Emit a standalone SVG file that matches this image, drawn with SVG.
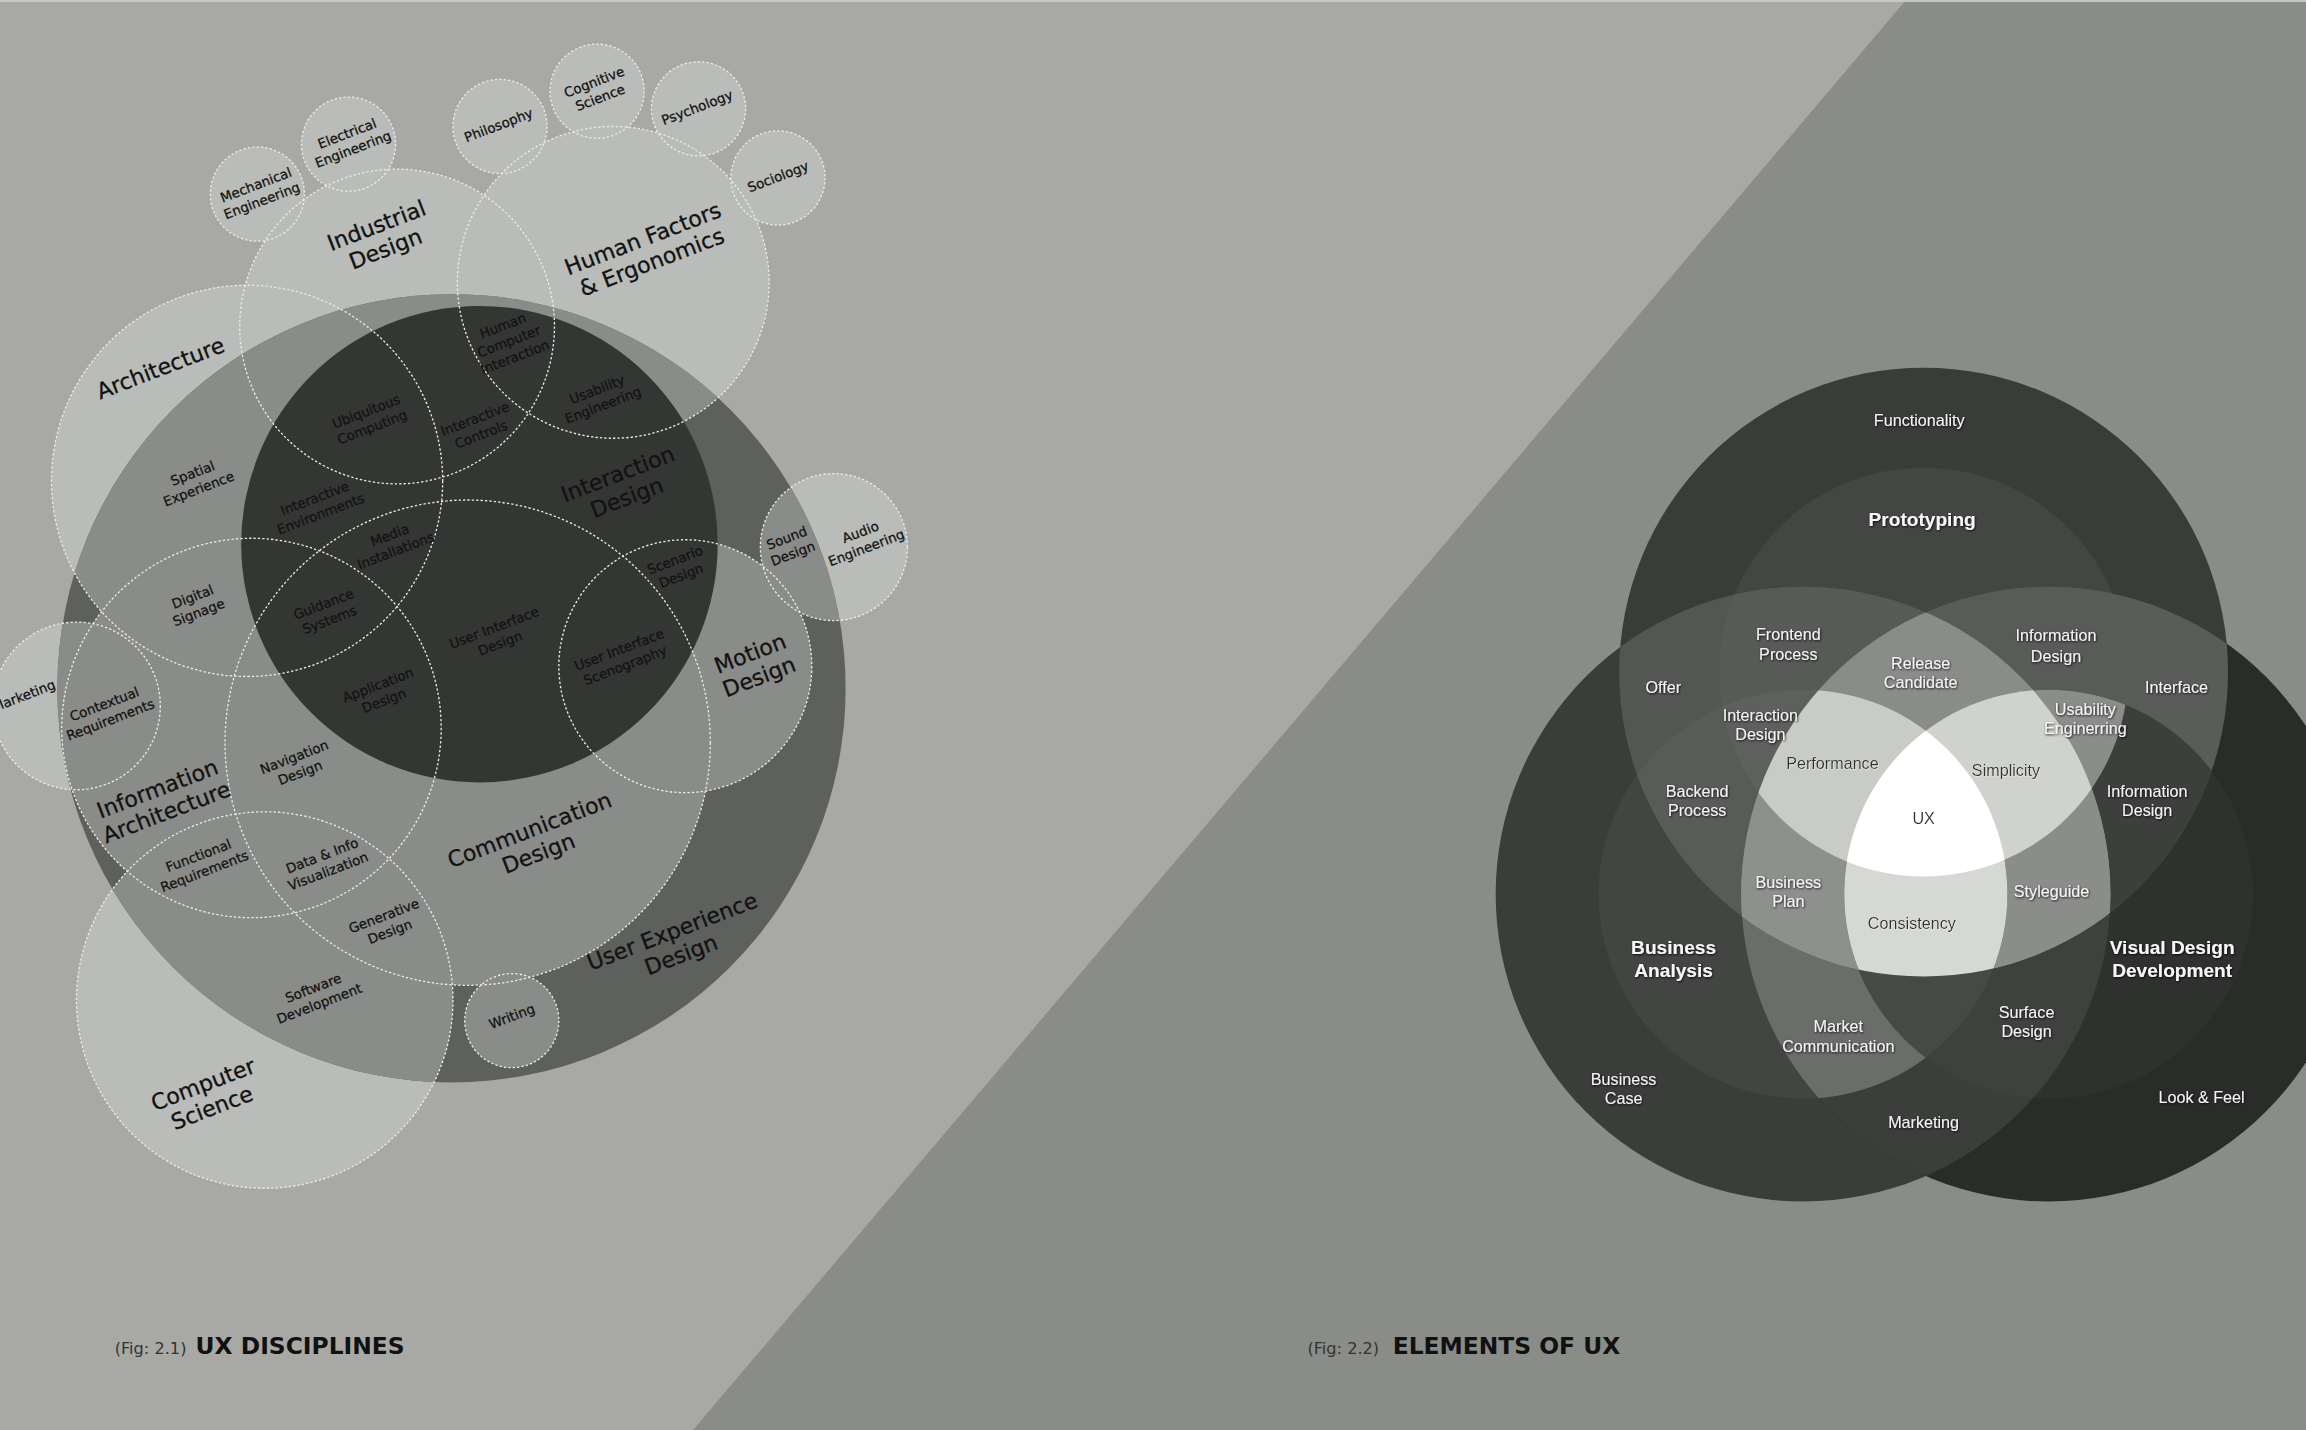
<svg xmlns="http://www.w3.org/2000/svg" xmlns:xlink="http://www.w3.org/1999/xlink" width="2306" height="1430" viewBox="0 0 2306 1430">
<style>
.s{font-family:"DejaVu Sans",sans-serif;font-size:9.1px;fill:#121212;stroke:#121212;stroke-width:0.18px;text-anchor:middle}
.b{font-family:"DejaVu Sans",sans-serif;font-size:15px;fill:#121212;stroke:#121212;stroke-width:0.2px;text-anchor:middle}
.w{font-family:"Liberation Sans",Arial,sans-serif;font-size:11px;fill:#f3f3f3;text-anchor:middle;filter:url(#sh)}
.wb{font-family:"Liberation Sans",Arial,sans-serif;font-size:13px;font-weight:bold;fill:#f6f6f6;text-anchor:middle;filter:url(#sh)}
.d{font-family:"Liberation Sans",Arial,sans-serif;font-size:11px;fill:#2e302e;text-anchor:middle;filter:url(#hl)}
.cap1{font-family:"DejaVu Sans",sans-serif;font-size:11px;fill:#333}
.cap2{font-family:"DejaVu Sans",sans-serif;font-size:15.9px;font-weight:bold;fill:#111}
</style>
<defs>
<filter id="sh" x="-20%" y="-50%" width="140%" height="200%"><feDropShadow dx="0.5" dy="0.7" stdDeviation="0.6" flood-color="#000" flood-opacity="0.85"/></filter>
<filter id="hl" x="-20%" y="-50%" width="140%" height="200%"><feDropShadow dx="0.4" dy="0.5" stdDeviation="0.5" flood-color="#fff" flood-opacity="0.6"/></filter>
<g id="lc">
<circle id="c-mech" cx="175" cy="132" r="32"/>
<circle id="c-elec" cx="237" cy="98" r="32"/>
<circle id="c-phil" cx="340" cy="86" r="32"/>
<circle id="c-cog" cx="406" cy="62" r="32"/>
<circle id="c-psy" cx="475" cy="74" r="32"/>
<circle id="c-soc" cx="529" cy="121" r="32"/>
<circle id="c-ind" cx="270" cy="222" r="107"/>
<circle id="c-hf" cx="417" cy="192" r="106"/>
<circle id="c-arch" cx="168" cy="327" r="133"/>
<circle id="c-sound" cx="567" cy="372" r="50"/>
<circle id="c-motion" cx="466" cy="453" r="86"/>
<circle id="c-comm" cx="318" cy="505" r="165"/>
<circle id="c-ia" cx="171" cy="495" r="129"/>
<circle id="c-mkt" cx="52" cy="480" r="57"/>
<circle id="c-cs" cx="180" cy="680" r="128"/>
<circle id="c-writing" cx="348" cy="694" r="32"/>
</g>
<clipPath id="cUX"><circle cx="307" cy="468" r="268"/></clipPath>
<clipPath id="cOT"><circle cx="1308" cy="457" r="207"/></clipPath>
<clipPath id="cIT"><circle cx="1308" cy="457" r="139"/></clipPath>
<clipPath id="cOL"><circle cx="1226" cy="608" r="209"/></clipPath>
<clipPath id="cIL"><circle cx="1226" cy="608" r="139"/></clipPath>
<clipPath id="cOR"><circle cx="1393" cy="608" r="209"/></clipPath>
<clipPath id="cIR"><circle cx="1393" cy="608" r="139"/></clipPath>
</defs>
<g transform="scale(1.47066)">
<g id="background">
<rect x="0" y="0" width="1570" height="975" fill="#a8a9a5"/>
<polygon points="1296,0 1570,0 1570,975 469,975" fill="#8a8c88"/>
<rect x="0" y="0" width="1570" height="1.4" fill="#c6c7c4"/>
</g>
<g id="fig-2-1">
<use xlink:href="#lc" href="#lc" fill="#b9bcb8"/>
<circle id="ux-design" cx="307" cy="468" r="268" fill="#5d605d"/>
<use xlink:href="#lc" href="#lc" fill="#8a8c89" clip-path="url(#cUX)"/>
<circle id="interaction-design" cx="326" cy="370" r="162" fill="#343634"/>
<use xlink:href="#lc" href="#lc" fill="none" stroke="#ebebe7" stroke-width="0.9" stroke-dasharray="1.6 1.4"/>
<g id="labels-left">
<g id="n-mech" transform="translate(176,131) rotate(-21)"><text class="s"><tspan x="0" y="-2.4">Mechanical</tspan><tspan x="0" y="9">Engineering</tspan></text></g>
<g id="n-elec" transform="translate(238,96) rotate(-21)"><text class="s"><tspan x="0" y="-2.4">Electrical</tspan><tspan x="0" y="9">Engineering</tspan></text></g>
<g id="n-phil" transform="translate(339,85) rotate(-21)"><text class="s" y="3.3">Philosophy</text></g>
<g id="n-cog" transform="translate(406,61) rotate(-21)"><text class="s"><tspan x="0" y="-2.4">Cognitive</tspan><tspan x="0" y="9">Science</tspan></text></g>
<g id="n-psy" transform="translate(474,73) rotate(-21)"><text class="s" y="3.3">Psychology</text></g>
<g id="n-soc" transform="translate(529,120) rotate(-21)"><text class="s" y="3.3">Sociology</text></g>
<g id="n-ind" transform="translate(259,161) rotate(-21)"><text class="b"><tspan x="0" y="-3">Industrial</tspan><tspan x="0" y="14">Design</tspan></text></g>
<g id="n-hf" transform="translate(440,170) rotate(-21)"><text class="b"><tspan x="0" y="-3">Human Factors</tspan><tspan x="0" y="14">&amp; Ergonomics</tspan></text></g>
<g id="n-arch" transform="translate(109,250) rotate(-21)"><text class="b" y="5.5">Architecture</text></g>
<g id="n-hci" transform="translate(346,232) rotate(-21)"><text class="s"><tspan x="0" y="-8.1">Human</tspan><tspan x="0" y="3.3">Computer</tspan><tspan x="0" y="14.7">Interaction</tspan></text></g>
<g id="n-ubi" transform="translate(251,285) rotate(-21)"><text class="s"><tspan x="0" y="-2.4">Ubiquitous</tspan><tspan x="0" y="9">Computing</tspan></text></g>
<g id="n-ictl" transform="translate(325,290) rotate(-21)"><text class="s"><tspan x="0" y="-2.4">Interactive</tspan><tspan x="0" y="9">Controls</tspan></text></g>
<g id="n-usab" transform="translate(408,270) rotate(-21)"><text class="s"><tspan x="0" y="-2.4">Usability</tspan><tspan x="0" y="9">Engineering</tspan></text></g>
<g id="n-spat" transform="translate(133,327) rotate(-21)"><text class="s"><tspan x="0" y="-2.4">Spatial</tspan><tspan x="0" y="9">Experience</tspan></text></g>
<g id="n-ienv" transform="translate(216,344) rotate(-21)"><text class="s"><tspan x="0" y="-2.4">Interactive</tspan><tspan x="0" y="9">Environments</tspan></text></g>
<g id="n-ixd" transform="translate(423,330) rotate(-21)"><text class="b"><tspan x="0" y="-3">Interaction</tspan><tspan x="0" y="14">Design</tspan></text></g>
<g id="n-media" transform="translate(267,369) rotate(-21)"><text class="s"><tspan x="0" y="-2.4">Media</tspan><tspan x="0" y="9">Installations</tspan></text></g>
<g id="n-dsig" transform="translate(133,411) rotate(-21)"><text class="s"><tspan x="0" y="-2.4">Digital</tspan><tspan x="0" y="9">Signage</tspan></text></g>
<g id="n-scen" transform="translate(461,386) rotate(-21)"><text class="s"><tspan x="0" y="-2.4">Scenario</tspan><tspan x="0" y="9">Design</tspan></text></g>
<g id="n-sound" transform="translate(537,371) rotate(-21)"><text class="s"><tspan x="0" y="-2.4">Sound</tspan><tspan x="0" y="9">Design</tspan></text></g>
<g id="n-audio" transform="translate(587,367) rotate(-21)"><text class="s"><tspan x="0" y="-2.4">Audio</tspan><tspan x="0" y="9">Engineering</tspan></text></g>
<g id="n-guid" transform="translate(222,416) rotate(-21)"><text class="s"><tspan x="0" y="-2.4">Guidance</tspan><tspan x="0" y="9">Systems</tspan></text></g>
<g id="n-uid" transform="translate(338,432) rotate(-21)"><text class="s"><tspan x="0" y="-2.4">User Interface</tspan><tspan x="0" y="9">Design</tspan></text></g>
<g id="n-uis" transform="translate(423,447) rotate(-21)"><text class="s"><tspan x="0" y="-2.4">User Interface</tspan><tspan x="0" y="9">Scenography</tspan></text></g>
<g id="n-motion" transform="translate(513,452) rotate(-21)"><text class="b"><tspan x="0" y="-3">Motion</tspan><tspan x="0" y="14">Design</tspan></text></g>
<g id="n-mkt" transform="translate(16,473) rotate(-21)"><text class="s" y="3.3">Marketing</text></g>
<g id="n-ctx" transform="translate(73,484) rotate(-21)"><text class="s"><tspan x="0" y="-2.4">Contextual</tspan><tspan x="0" y="9">Requirements</tspan></text></g>
<g id="n-app" transform="translate(259,471) rotate(-21)"><text class="s"><tspan x="0" y="-2.4">Application</tspan><tspan x="0" y="9">Design</tspan></text></g>
<g id="n-nav" transform="translate(202,520) rotate(-21)"><text class="s"><tspan x="0" y="-2.4">Navigation</tspan><tspan x="0" y="9">Design</tspan></text></g>
<g id="n-ia" transform="translate(110,544) rotate(-21)"><text class="b"><tspan x="0" y="-3">Information</tspan><tspan x="0" y="14">Architecture</tspan></text></g>
<g id="n-comm" transform="translate(363,572) rotate(-21)"><text class="b"><tspan x="0" y="-3">Communication</tspan><tspan x="0" y="14">Design</tspan></text></g>
<g id="n-func" transform="translate(137,587) rotate(-21)"><text class="s"><tspan x="0" y="-2.4">Functional</tspan><tspan x="0" y="9">Requirements</tspan></text></g>
<g id="n-data" transform="translate(221,587) rotate(-21)"><text class="s"><tspan x="0" y="-2.4">Data &amp; Info</tspan><tspan x="0" y="9">Visualization</tspan></text></g>
<g id="n-gen" transform="translate(263,628) rotate(-21)"><text class="s"><tspan x="0" y="-2.4">Generative</tspan><tspan x="0" y="9">Design</tspan></text></g>
<g id="n-uxd" transform="translate(460,641) rotate(-21)"><text class="b"><tspan x="0" y="-3">User Experience</tspan><tspan x="0" y="14">Design</tspan></text></g>
<g id="n-soft" transform="translate(215,677) rotate(-21)"><text class="s"><tspan x="0" y="-2.4">Software</tspan><tspan x="0" y="9">Development</tspan></text></g>
<g id="n-writing" transform="translate(348,691) rotate(-21)"><text class="s" y="3.3">Writing</text></g>
<g id="n-cs" transform="translate(141,745) rotate(-21)"><text class="b"><tspan x="0" y="-3">Computer</tspan><tspan x="0" y="14">Science</tspan></text></g>
</g>
</g>
<g id="fig-2-2">
<circle cx="1308" cy="457" r="207" fill="#3a3c3a"/>
<circle cx="1226" cy="608" r="209" fill="#3b3d3b"/>
<circle cx="1393" cy="608" r="209" fill="#2a2c2a"/>
<circle cx="1308" cy="457" r="139" fill="#444644"/>
<circle cx="1226" cy="608" r="139" fill="#434543"/>
<circle cx="1393" cy="608" r="139" fill="#2f312f"/>
<g clip-path="url(#cOL)"><circle cx="1308" cy="457" r="207" fill="#535653"/></g>
<g clip-path="url(#cOR)"><circle cx="1308" cy="457" r="207" fill="#595c59"/></g>
<g clip-path="url(#cOR)"><circle cx="1226" cy="608" r="209" fill="#3c3e3c"/></g>
<g clip-path="url(#cOL)"><circle cx="1308" cy="457" r="139" fill="#575a57"/></g>
<g clip-path="url(#cOR)"><circle cx="1308" cy="457" r="139" fill="#585b58"/></g>
<g clip-path="url(#cOT)"><circle cx="1226" cy="608" r="139" fill="#585b58"/></g>
<g clip-path="url(#cOT)"><circle cx="1393" cy="608" r="139" fill="#3d3f3d"/></g>
<g clip-path="url(#cOR)"><circle cx="1226" cy="608" r="139" fill="#6a6d6a"/></g>
<g clip-path="url(#cOL)"><circle cx="1393" cy="608" r="139" fill="#3f413f"/></g>
<g clip-path="url(#cOT)"><g clip-path="url(#cOL)"><circle cx="1393" cy="608" r="209" fill="#8a8c89"/></g></g>
<g clip-path="url(#cIL)"><circle cx="1308" cy="457" r="139" fill="#5d605d"/></g>
<g clip-path="url(#cIR)"><circle cx="1308" cy="457" r="139" fill="#8b8d8a"/></g>
<g clip-path="url(#cOL)"><g clip-path="url(#cOR)"><circle cx="1308" cy="457" r="139" fill="#8a8c89"/></g></g>
<g clip-path="url(#cOT)"><g clip-path="url(#cOR)"><circle cx="1226" cy="608" r="139" fill="#8e908d"/></g></g>
<g clip-path="url(#cOT)"><g clip-path="url(#cOL)"><circle cx="1393" cy="608" r="139" fill="#8b8d8a"/></g></g>
<g clip-path="url(#cIL)"><circle cx="1393" cy="608" r="139" fill="#474947"/></g>
<g clip-path="url(#cIL)"><g clip-path="url(#cOR)"><circle cx="1308" cy="457" r="139" fill="#c9cbc6"/></g></g>
<g clip-path="url(#cOL)"><g clip-path="url(#cIR)"><circle cx="1308" cy="457" r="139" fill="#d0d2cd"/></g></g>
<g clip-path="url(#cIL)"><g clip-path="url(#cIR)"><circle cx="1308" cy="457" r="207" fill="#d6d8d3"/></g></g>
<g clip-path="url(#cIL)"><g clip-path="url(#cIR)"><circle cx="1308" cy="457" r="139" fill="#ffffff"/></g></g>
<g id="labels-right">
<g id="e-functionality"><text class="w" x="1305" y="290">Functionality</text></g>
<g id="e-prototyping"><text class="wb" x="1307" y="358">Prototyping</text></g>
<g id="e-frontend"><text class="w"><tspan x="1216" y="435">Frontend</tspan><tspan x="1216" y="449">Process</tspan></text></g>
<g id="e-info1"><text class="w"><tspan x="1398" y="436">Information</tspan><tspan x="1398" y="450">Design</tspan></text></g>
<g id="e-offer"><text class="w" x="1131" y="471">Offer</text></g>
<g id="e-release"><text class="w"><tspan x="1306" y="455">Release</tspan><tspan x="1306" y="468">Candidate</tspan></text></g>
<g id="e-interface"><text class="w" x="1480" y="471">Interface</text></g>
<g id="e-ixd"><text class="w"><tspan x="1197" y="490">Interaction</tspan><tspan x="1197" y="503">Design</tspan></text></g>
<g id="e-usab"><text class="w"><tspan x="1418" y="486">Usability</tspan><tspan x="1418" y="499">Enginerring</tspan></text></g>
<g id="e-perf"><text class="d" x="1246" y="523">Performance</text></g>
<g id="e-simp"><text class="d" x="1364" y="528">Simplicity</text></g>
<g id="e-backend"><text class="w"><tspan x="1154" y="542">Backend</tspan><tspan x="1154" y="555">Process</tspan></text></g>
<g id="e-info2"><text class="w"><tspan x="1460" y="542">Information</tspan><tspan x="1460" y="555">Design</tspan></text></g>
<g id="e-ux"><text class="d" x="1308" y="560">UX</text></g>
<g id="e-bplan"><text class="w"><tspan x="1216" y="604">Business</tspan><tspan x="1216" y="617">Plan</tspan></text></g>
<g id="e-style"><text class="w" x="1395" y="610">Styleguide</text></g>
<g id="e-cons"><text class="d" x="1300" y="632">Consistency</text></g>
<g id="e-ba"><text class="wb"><tspan x="1138" y="649">Business</tspan><tspan x="1138" y="664">Analysis</tspan></text></g>
<g id="e-vdd"><text class="wb"><tspan x="1477" y="649">Visual Design</tspan><tspan x="1477" y="664">Development</tspan></text></g>
<g id="e-surface"><text class="w"><tspan x="1378" y="692">Surface</tspan><tspan x="1378" y="705">Design</tspan></text></g>
<g id="e-mcomm"><text class="w"><tspan x="1250" y="702">Market</tspan><tspan x="1250" y="715">Communication</tspan></text></g>
<g id="e-bcase"><text class="w"><tspan x="1104" y="738">Business</tspan><tspan x="1104" y="751">Case</tspan></text></g>
<g id="e-look"><text class="w" x="1497" y="750">Look &amp; Feel</text></g>
<g id="e-marketing"><text class="w" x="1308" y="767">Marketing</text></g>
</g>
</g>
<g id="captions">
<text class="cap1" x="78" y="921">(Fig: 2.1)</text>
<text class="cap2" x="133" y="921">UX DISCIPLINES</text>
<text class="cap1" x="889" y="921">(Fig: 2.2)</text>
<text class="cap2" x="947" y="921">ELEMENTS OF UX</text>
</g>
<g id="connectors"/>
</g>
</svg>
